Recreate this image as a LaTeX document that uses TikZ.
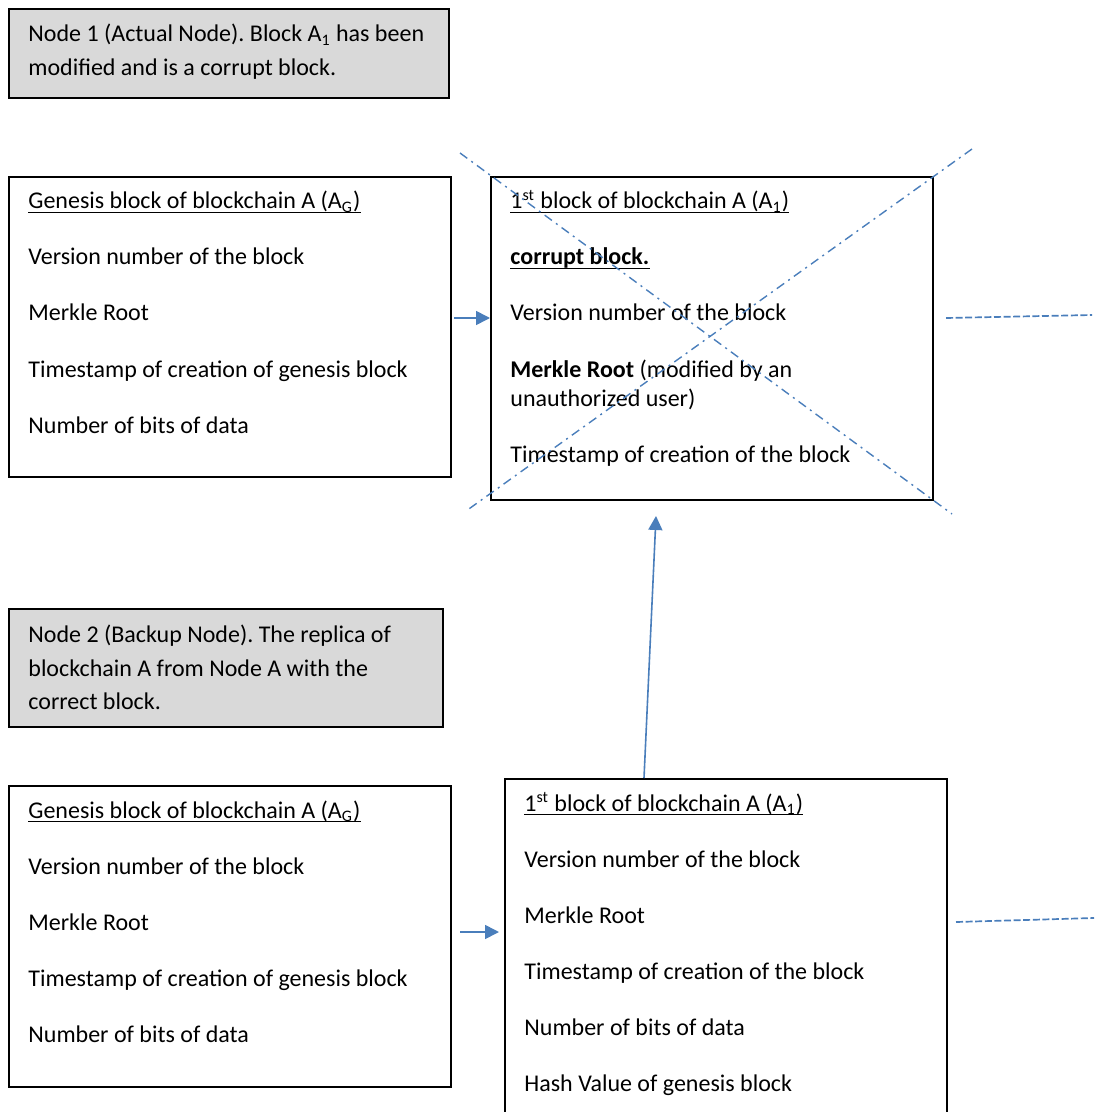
\documentclass[tikz,border=0pt]{standalone}
\usepackage{fontspec}
\setmainfont{Carlito}
\usetikzlibrary{arrows.meta}
\definecolor{linkblue}{HTML}{4A7EBB}
\definecolor{notegray}{HTML}{D9D9D9}
\frenchspacing
\begin{document}
\begin{tikzpicture}[x=0.5pt, y=-0.5pt,
  block/.style={draw, line width=1pt, rectangle, anchor=north west, inner sep=0pt},
  notebox/.style={block, fill=notegray},
  txt/.style={anchor=base west, inner sep=0pt, font=\fontsize{12}{14.5}\selectfont},
  link/.style={draw=linkblue, line width=0.8pt, -{Triangle[length=7pt,width=7pt]}},
  crossline/.style={draw=linkblue, line width=0.7pt, dash pattern=on 4.5pt off 2.5pt on 1pt off 2.5pt},
  cont/.style={draw=linkblue, line width=0.85pt, dash pattern=on 3.5pt off 1.3pt},
  uline/.style={line width=0.6pt}]
\useasboundingbox (0,0) rectangle (1094,1112);
\clip (0,0) rectangle (1094,1112);

% ---------- Node 1 (actual node) ----------
\node[notebox, minimum width=220pt, minimum height=44.5pt] (note1) at (8,8) {};
\node[txt] (note1a) at (28,42) {Node 1 (Actual Node). Block A\textsubscript{1} has been};
\node[txt] (note1b) at (28,76) {modified and is a corrupt block.};

% genesis block, node 1
\node[block, minimum width=221pt, minimum height=150pt] (gtop) at (8,176) {};
\node[txt] (gtopt) at (28,209) {Genesis block of blockchain A (A\textsubscript{G})};
\node[txt] at (28,265) {Version number of the block};
\node[txt] at (28,321) {Merkle Root};
\node[txt] at (28,377) {Timestamp of creation of genesis block};
\node[txt] at (28,433) {Number of bits of data};

% first block, node 1 (corrupt)
\node[block, minimum width=221pt, minimum height=161.5pt] (atop) at (490,176) {};
\node[txt] (atopt) at (510,209) {1\textsuperscript{st} block of blockchain A (A\textsubscript{1})};
\node[txt] (corr) at (510,265) {\textbf{corrupt block.}};
\node[txt] at (510,321) {Version number of the block};
\node[txt] at (510,377) {\textbf{Merkle Root} (modified by an};
\node[txt] at (510,406) {unauthorized user)};
\node[txt] at (510,462) {Timestamp of creation of the block};

% ---------- Node 2 (backup node) ----------
\node[notebox, minimum width=217pt, minimum height=59pt] (note2) at (8,608) {};
\node[txt] at (28,642) {Node 2 (Backup Node). The replica of};
\node[txt] at (28,676) {blockchain A from Node A with the};
\node[txt] at (28,709) {correct block.};

% genesis block, node 2
\node[block, minimum width=221pt, minimum height=150.5pt] (gbot) at (8,785) {};
\node[txt] (gbott) at (28,818) {Genesis block of blockchain A (A\textsubscript{G})};
\node[txt] at (28,874) {Version number of the block};
\node[txt] at (28,930) {Merkle Root};
\node[txt] at (28,986) {Timestamp of creation of genesis block};
\node[txt] at (28,1042) {Number of bits of data};

% first block, node 2 (correct)
\node[block, minimum width=221pt, minimum height=175pt] (abot) at (504,778) {};
\node[txt] (abott) at (524,811) {1\textsuperscript{st} block of blockchain A (A\textsubscript{1})};
\node[txt] at (524,867) {Version number of the block};
\node[txt] at (524,923) {Merkle Root};
\node[txt] at (524,979) {Timestamp of creation of the block};
\node[txt] at (524,1035) {Number of bits of data};
\node[txt] at (524,1091) {Hash Value of genesis block};

% underlined headings
\foreach \t in {gtopt, atopt, corr, gbott, abott}
  \draw[uline] ([yshift=-1.8pt]\t.base west) -- ([yshift=-1.8pt]\t.base east);

% ---------- connectors ----------
\coordinate (l1s) at (454,318);
\coordinate (l1e) at (490,318);
\draw[link] (l1s) -- (l1e);
\coordinate (l2s) at (460,932);
\coordinate (l2e) at (499,932);
\draw[link] (l2s) -- (l2e);

% restore arrow from the backup copy to the corrupt block
\coordinate (upS) at (644,778);
\coordinate (upE) at (656,516);
\draw[link] (upS) -- (upE);

% chain continues to the right
\coordinate (c1s) at (946,318);
\coordinate (c1e) at (1092,315);
\draw[cont] (c1s) -- (c1e);
\coordinate (c2s) at (956,922);
\coordinate (c2e) at (1094,918);
\draw[cont] (c2s) -- (c2e);

% cross marking the corrupt block
\coordinate (x1s) at (460,153);
\coordinate (x1e) at (952,514);
\coordinate (x2s) at (972,149);
\coordinate (x2e) at (466,511);
\draw[crossline] (x1s) -- (x1e);
\draw[crossline] (x2s) -- (x2e);
\end{tikzpicture}
\end{document}
